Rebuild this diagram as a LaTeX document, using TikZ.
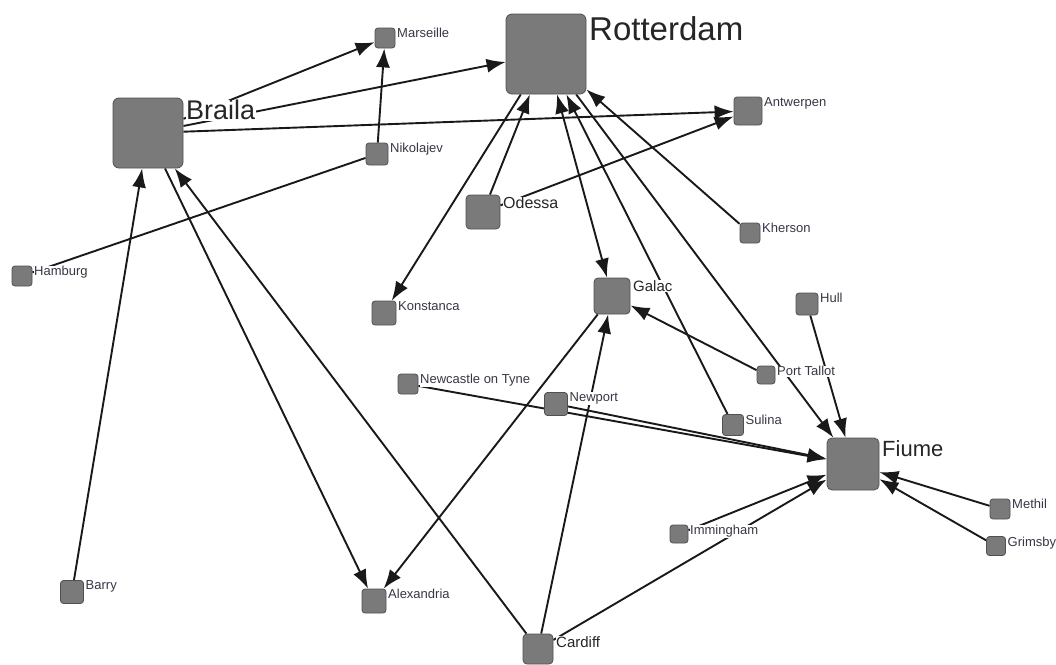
\documentclass[tikz,border=0pt]{standalone}
\usepackage{fontspec}
\setmainfont{Liberation Sans}
\usetikzlibrary{arrows.meta}
\definecolor{portgray}{RGB}{122, 122, 122}
\definecolor{portedge}{RGB}{80, 80, 80}
\definecolor{namegray}{RGB}{55, 55, 70}
\pgfdeclarelayer{edges}
\pgfsetlayers{edges,main}

\begin{document}
\begin{tikzpicture}[
    x=1pt, y=-1pt,
    >={Latex[length=19pt,width=14pt]},
    % Define Styles for Consistency
    harbour/.style={
        rectangle, rounded corners=3pt, draw=portedge, line width=0.8pt,
        fill=portgray, inner sep=0pt, minimum size=#1
    },
    harbour/.default=20pt,
    portname/.style={
        fill=white, inner sep=0.6pt, text=namegray, anchor=north west,
        xshift=1pt, font=\fontsize{13}{14}\selectfont
    },
    hubname/.style={
        fill=white, inner sep=0.6pt, text=black!85, anchor=north west,
        xshift=2pt, yshift=-2pt, font=\fontsize{#1}{#1}\selectfont
    },
    link/.style={line width=1.9pt, draw=black!90},
    route/.style={link, ->},
    twoway/.style={link, <->}
]
    \useasboundingbox (0,0) rectangle (1056,664);

    % --- 1. The Large Hubs ---
    \node[harbour=80pt, rounded corners=6pt, label={[hubname=33]north east:Rotterdam}] (rotterdam) at (546, 54) {};
    \node[harbour=70pt, rounded corners=6pt, label={[hubname=27]north east:Braila}] (braila) at (148, 133) {};
    \node[harbour=52pt, rounded corners=5pt, label={[hubname=22]north east:Fiume}] (fiume) at (853, 464) {};
    \node[harbour=36pt, rounded corners=4pt, label={[hubname=15]north east:Galac}] (galac) at (612, 296) {};
    \node[harbour=34pt, rounded corners=4pt, label={[hubname=16]north east:Odessa}] (odessa) at (483, 212) {};
    \node[harbour=30pt, rounded corners=4pt, label={[hubname=15]north east:Cardiff}] (cardiff) at (538, 649) {};

    % --- 2. The Small Ports ---
    \node[harbour, label={[portname]north east:Marseille}] (marseille) at (385, 38) {};
    \node[harbour=28pt, label={[portname]north east:Antwerpen}] (antwerpen) at (748, 111) {};
    \node[harbour=22pt, label={[portname]north east:Nikolajev}] (nikolajev) at (377, 154) {};
    \node[harbour, label={[portname]north east:Hamburg}] (hamburg) at (22, 276) {};
    \node[harbour=24pt, label={[portname]north east:Konstanca}] (konstanca) at (384, 313) {};
    \node[harbour, label={[portname]north east:Kherson}] (kherson) at (750, 233) {};
    \node[harbour=22pt, label={[portname]north east:Hull}] (hull) at (807, 304) {};
    \node[harbour=18pt, label={[portname]north east:Port Tallot}] (porttallot) at (766, 375) {};
    \node[harbour, label={[portname]north east:Newcastle on Tyne}] (newcastle) at (408, 384) {};
    \node[harbour=23pt, label={[portname]north east:Newport}] (newport) at (556, 404) {};
    \node[harbour=21pt, label={[portname]north east:Sulina}] (sulina) at (733, 425) {};
    \node[harbour, label={[portname]north east:Methil}] (methil) at (1000, 509) {};
    \node[harbour=19pt, label={[portname]north east:Grimsby}] (grimsby) at (996, 546) {};
    \node[harbour=18pt, label={[portname]north east:Immingham}] (immingham) at (679, 534) {};
    \node[harbour=23pt, label={[portname]north east:Barry}] (barry) at (72, 592) {};
    \node[harbour=24pt, label={[portname]north east:Alexandria}] (alexandria) at (374, 601) {};

    % --- 3. Routes (drawn under the nodes and names) ---
    \begin{pgfonlayer}{edges}
    % From Braila
    \draw[route] (braila) -- (marseille);
    \draw[route] (braila) -- (rotterdam);
    \draw[route] (braila) -- (antwerpen);
    \draw[route] (braila) -- (alexandria);

    % Into Braila
    \draw[route] (barry) -- (braila);
    \draw[route] (cardiff) -- (braila);

    % Around Rotterdam
    \draw[route] (odessa) -- (rotterdam);
    \draw[route] (odessa) -- (antwerpen);
    \draw[route] (rotterdam) -- (konstanca);
    \draw[twoway] (rotterdam) -- (galac);
    \draw[route] (sulina) -- (rotterdam);
    \draw[route] (kherson) -- (rotterdam);
    \draw[route] (rotterdam) -- (fiume);

    % Nikolajev
    \draw[route] (nikolajev) -- (marseille);
    \draw[link] (hamburg) -- (nikolajev);

    % Galac
    \draw[route] (porttallot) -- (galac);
    \draw[route] (cardiff) -- (galac);
    \draw[route] (galac) -- (alexandria);

    % Into Fiume
    \draw[route] (hull) -- (fiume);
    \draw[route] (newcastle) -- (fiume);
    \draw[route] (newport) -- (fiume);
    \draw[route] (methil) -- (fiume);
    \draw[route] (grimsby) -- (fiume);
    \draw[route] (immingham) -- (fiume);
    \draw[route] (cardiff) -- (fiume);
    \end{pgfonlayer}

\end{tikzpicture}
\end{document}
